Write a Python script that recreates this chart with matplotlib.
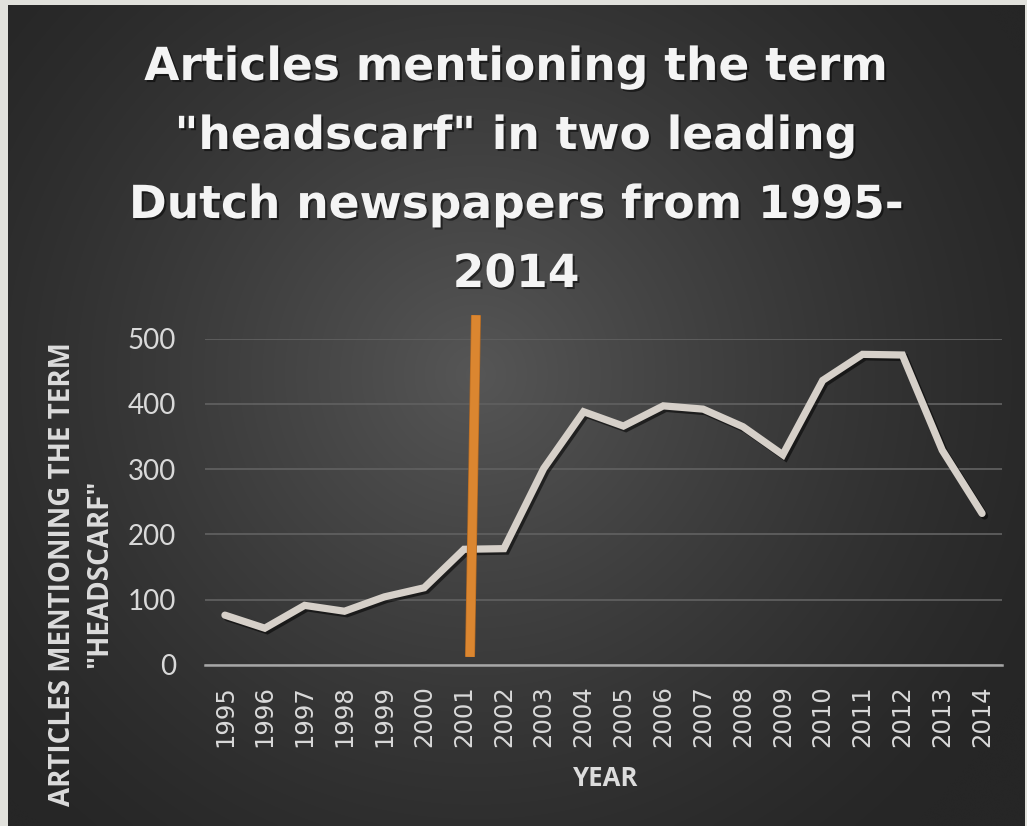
import numpy as np
import matplotlib
matplotlib.use("Agg")
import matplotlib.pyplot as plt
import matplotlib.patheffects as pe

# Articles per year mentioning "headscarf"
years = [1995, 1996, 1997, 1998, 1999, 2000, 2001, 2002, 2003, 2004,
         2005, 2006, 2007, 2008, 2009, 2010, 2011, 2012, 2013, 2014]
articles = [76, 56, 91, 82, 104, 118, 177, 178, 301, 388,
            366, 397, 392, 365, 322, 436, 476, 475, 329, 232]
y_ticks = [0, 100, 200, 300, 400, 500]

# Hand-drawn marker around 2001 (top and bottom ends)
event_years = [2001.3, 2001.15]
event_values = [536, 12]

title_lines = ['Articles mentioning the term',
               '"headscarf" in two leading',
               'Dutch newspapers from 1995-',
               '2014']
y_label = 'ARTICLES MENTIONING THE TERM\n"HEADSCARF"'
x_label = 'YEAR'

W, H, DPI = 1027, 826, 100
fig = plt.figure(figsize=(W / DPI, H / DPI), dpi=DPI, facecolor="#e1e1dc")

# Dark slide background with a soft radial glow
bg = fig.add_axes([8 / W, 0, (W - 10) / W, (H - 5) / H], zorder=0)
bg.set_axis_off()
gx, gy = np.meshgrid(np.linspace(0, 1, 400), np.linspace(0, 1, 320))
d = np.sqrt(((gx - 0.46) / 0.62) ** 2 + ((gy - 0.55) / 0.75) ** 2)
shade = np.clip(1 - d, 0, 1) ** 1.3
lum = (38 + (86 - 38) * shade) / 255.0
img = np.dstack([lum, lum, lum])
bg.imshow(img, aspect="auto", extent=[0, 1, 0, 1], origin="lower", interpolation="bicubic")
bg.set_xlim(0, 1)
bg.set_ylim(0, 1)

# Plot area
y0_px, y500_px = 664.7, 338.7
left_px, right_px = 205, 1002
ax = fig.add_axes([left_px / W, (H - y0_px) / H, (right_px - left_px) / W, (y0_px - y500_px) / H], zorder=2)
ax.set_facecolor("none")
for s in ["top", "right", "left"]:
    ax.spines[s].set_visible(False)
ax.spines["bottom"].set_color("#a6a6a6")
ax.spines["bottom"].set_linewidth(1.8)

xs = np.arange(len(years))
ax.set_xlim(-0.5, len(years) - 0.5)
ax.set_ylim(0, 500)
ax.set_yticks(y_ticks)
ax.yaxis.grid(True, color="#5f5f5f", linewidth=1.3)
ax.set_axisbelow(True)
ax.tick_params(axis="y", length=0, pad=21, labelsize=20, labelcolor="#d9d9d9")
ax.set_xticks(xs)
ax.set_xticklabels([str(y) for y in years], rotation=90, fontfamily="DejaVu Sans")
ax.tick_params(axis="x", length=0, pad=15, labelsize=17.5, labelcolor="#d9d9d9")
for lab in ax.get_yticklabels():
    lab.set_fontfamily("Lato")

ax.plot(xs, articles, color="#d6d0c9", linewidth=5.2, solid_capstyle="round",
        solid_joinstyle="miter", zorder=3,
        path_effects=[pe.SimpleLineShadow(offset=(1.8, -1.8), shadow_color="black", alpha=0.55),
                      pe.Normal()])

ev_x = [y - years[0] for y in event_years]
ax.plot(ev_x, event_values, color="#db8630", linewidth=6.2, solid_capstyle="butt",
        clip_on=False, zorder=4,
        path_effects=[pe.Stroke(linewidth=7.2, foreground="#b56a22"), pe.Normal()])

# Title, one line at a time
title_shadow = [pe.withSimplePatchShadow(offset=(1.5, -1.5), shadow_rgbFace="black", alpha=0.5)]
for i, line in enumerate(title_lines):
    fig.text(516 / W, 1 - (80 + 69 * i) / H, line, ha="center", va="baseline",
             color="#f4f4f4", fontsize=32.8, fontweight="bold", fontfamily="DejaVu Sans",
             path_effects=title_shadow)

fig.text(81 / W, 1 - 574 / H, y_label, ha="center", va="center", rotation=90,
         color="#dcdcdc", fontsize=20, fontweight="bold", fontfamily="Open Sans",
         multialignment="center", linespacing=1.4)

fig.text(606 / W, 1 - 778 / H, x_label, ha="center", va="center",
         color="#dcdcdc", fontsize=18.5, fontweight="bold", fontfamily="Open Sans")

fig.savefig("out.png", dpi=DPI, facecolor=fig.get_facecolor())
